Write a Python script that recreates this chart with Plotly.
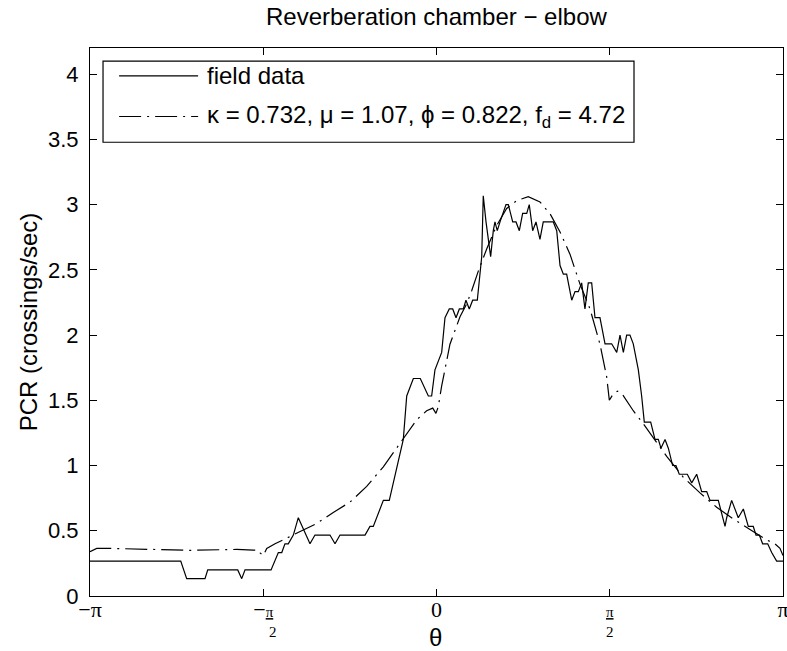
import numpy as np
import plotly.graph_objects as go

# field data (theta in rad, PCR in crossings/sec)
theta_field = [-np.pi, -2.319, -2.265, -2.099, -2.074, -1.802, -1.766, -1.736, -1.500,
               -1.434, -1.403, -1.374, -1.344, -1.298, -1.253, -1.147, -1.102, -0.966,
               -0.920, -0.875, -0.648, -0.603, -0.573, -0.482, -0.428, -0.301, -0.270,
               -0.210, -0.147, -0.074, -0.044, -0.014, 0.047, 0.077, 0.116, 0.147, 0.177,
               0.207, 0.243, 0.267, 0.297, 0.328, 0.370, 0.394, 0.410, 0.424, 0.449,
               0.491, 0.515, 0.530, 0.551, 0.576, 0.606, 0.630, 0.651, 0.691, 0.721,
               0.751, 0.781, 0.818, 0.841, 0.872, 0.902, 0.938, 0.968, 1.059, 1.090,
               1.120, 1.150, 1.180, 1.226, 1.256, 1.286, 1.316, 1.346, 1.376, 1.407,
               1.437, 1.482, 1.528, 1.588, 1.634, 1.664, 1.694, 1.724, 1.754, 1.784,
               1.830, 1.860, 1.884, 1.942, 1.981, 2.011, 2.035, 2.072, 2.102, 2.141,
               2.171, 2.201, 2.274, 2.314, 2.359, 2.404, 2.450, 2.480, 2.555, 2.616,
               2.631, 2.676, 2.736, 2.782, 2.827, 2.872, 2.897, 2.927, 2.957, 3.003,
               3.039, 3.084, np.pi]
pcr_field = [0.267, 0.267, 0.133, 0.133, 0.2, 0.2, 0.133, 0.2, 0.2,
             0.333, 0.333, 0.4, 0.4, 0.467, 0.6, 0.4, 0.467, 0.467,
             0.4, 0.467, 0.467, 0.533, 0.533, 0.733, 0.733, 1.2, 1.533,
             1.667, 1.667, 1.533, 1.533, 1.733, 1.867, 2.133, 2.2, 2.2, 2.133,
             2.2, 2.2, 2.267, 2.2, 2.267, 2.267, 2.467, 2.6, 3.067, 2.867,
             2.6, 2.8, 2.867, 2.8, 2.867, 2.933, 3.0, 3.0, 2.867, 2.867,
             2.8, 2.933, 2.933, 3.0, 2.8, 2.867, 2.733, 2.867, 2.867, 2.8,
             2.533, 2.467, 2.467, 2.267, 2.333, 2.333, 2.4, 2.2, 2.4, 2.4,
             2.133, 2.133, 1.933, 1.933, 1.867, 2.0, 1.867, 2.0, 2.0, 1.933,
             1.733, 1.533, 1.333, 1.333, 1.2, 1.2, 1.133, 1.2, 1.133, 1.0,
             1.0, 0.933, 0.933, 0.867, 0.933, 0.8, 0.8, 0.733, 0.733, 0.533,
             0.6, 0.733, 0.6, 0.667, 0.533, 0.533, 0.467, 0.467, 0.4, 0.4,
             0.333, 0.267, 0.267]

# fitted model
theta_fit = [-np.pi, -3.081, -2.960, -2.597, -2.235, -1.811, -1.691, -1.661, -1.616,
             -1.600, -1.570, -1.539, -1.464, -1.389, -1.238, -1.086, -0.936, -0.784,
             -0.633, -0.482, -0.331, -0.180, -0.089, -0.034, -0.005, 0.016, 0.047,
             0.122, 0.213, 0.274, 0.319, 0.379, 0.455, 0.546, 0.636, 0.727, 0.832,
             0.938, 1.029, 1.120, 1.210, 1.301, 1.392, 1.482, 1.543, 1.567, 1.603,
             1.641, 1.682, 1.784, 1.875, 1.981, 2.087, 2.238, 2.389, 2.540, 2.691,
             2.842, 2.994, 3.069, 3.114, np.pi]
pcr_fit = [0.34, 0.365, 0.365, 0.36, 0.35, 0.357, 0.357, 0.352, 0.35,
           0.33, 0.31, 0.365, 0.40, 0.43, 0.49, 0.556, 0.64, 0.72,
           0.84, 0.99, 1.17, 1.35, 1.42, 1.44, 1.40, 1.45, 1.61,
           1.93, 2.14, 2.24, 2.34, 2.49, 2.66, 2.84, 2.97, 3.03, 3.06,
           3.02, 2.93, 2.79, 2.62, 2.39, 2.20, 1.93, 1.68, 1.50, 1.55,
           1.57, 1.55, 1.42, 1.32, 1.19, 1.07, 0.91, 0.79, 0.68, 0.59,
           0.51, 0.43, 0.40, 0.365, 0.31]

big = "<span style='font-size:22px'>%s</span>"
x_tickvals = [-np.pi, -np.pi / 2, 0, np.pi / 2, np.pi]
x_ticktext = [big % "\u2212\u03c0",
              big % "\u2212" + "<u>\u03c0</u><br>\u00a0\u00a0\u00a0\u00a0\u00a02",
              big % "0",
              "<u>\u03c0</u><br>2",
              big % "\u03c0"]
y_tickvals = [0, 0.5, 1, 1.5, 2, 2.5, 3, 3.5, 4]
y_ticktext = ["0", "0.5", "1", "1.5", "2", "2.5", "3", "3.5", "4"]

fit_label = "\u03ba = 0.732, \u03bc = 1.07, \u03d5 = 0.822, f<sub>d</sub> = 4.72"
dashdot = "22px,6px,2px,6px"

fig = go.Figure()
fig.add_trace(go.Scatter(x=theta_field, y=pcr_field, mode="lines", name="field data",
                         line=dict(color="black", width=1.2)))
fig.add_trace(go.Scatter(x=theta_fit, y=pcr_fit, mode="lines", name=fit_label,
                         line=dict(color="black", width=1.2, dash=dashdot)))

# legend box drawn by hand (MATLAB style, long sample lines)
fig.add_shape(type="rect", xref="paper", yref="paper", x0=0.0188, x1=0.785, y0=0.828, y1=0.976,
              line=dict(color="black", width=1.2), fillcolor="white", layer="below")
fig.add_shape(type="line", xref="paper", yref="paper", x0=0.042, x1=0.156, y0=0.949, y1=0.949,
              line=dict(color="black", width=1.2))
fig.add_shape(type="line", xref="paper", yref="paper", x0=0.042, x1=0.156, y0=0.875, y1=0.875,
              line=dict(color="black", width=1.2, dash=dashdot))
fig.add_annotation(xref="paper", yref="paper", x=0.166, y=0.949, xanchor="left", yanchor="middle",
                   text="field data", showarrow=False, font=dict(size=24))
fig.add_annotation(xref="paper", yref="paper", x=0.166, y=0.875, xanchor="left", yanchor="middle",
                   text=fit_label, showarrow=False, font=dict(size=24))
# x-axis label
fig.add_annotation(xref="paper", yref="paper", x=0.4985, y=-0.075, xanchor="center", yanchor="middle",
                   text="\u03b8", showarrow=False, font=dict(size=24))

fig.update_layout(
    width=787, height=651,
    margin=dict(l=90, r=4, t=48, b=55),
    paper_bgcolor="white", plot_bgcolor="white",
    font=dict(family="Liberation Sans, Arial, sans-serif", size=24, color="black"),
    title=dict(text="Reverberation chamber \u2212 elbow", x=0.5545, xanchor="center",
               y=0.974, yanchor="middle", font=dict(size=24)),
    showlegend=False,
    xaxis=dict(range=[-np.pi, np.pi], tickmode="array", tickvals=x_tickvals, ticktext=x_ticktext,
               ticks="inside", ticklen=7, tickcolor="black", showgrid=False, zeroline=False,
               showline=True, linecolor="black", linewidth=1.2, mirror="ticks", automargin=False,
               tickfont=dict(family="Liberation Serif, serif", size=15), ticklabelstandoff=2,
               ticklabeloverflow="allow"),
    yaxis=dict(range=[0, 4.2], tickmode="array", tickvals=y_tickvals, ticktext=y_ticktext,
               ticks="inside", ticklen=7, tickcolor="black", showgrid=False, zeroline=False,
               showline=True, linecolor="black", linewidth=1.2, mirror="ticks", automargin=False,
               ticklabelstandoff=6, tickfont=dict(size=22),
               title=dict(text="PCR (crossings/sec)", standoff=3, font=dict(size=24))),
)

# page body margin off so the 787x651 figure fills the window exactly
fig.write_html("out.html", config={"displayModeBar": False},
               post_script="document.body.style.margin='0px';")
